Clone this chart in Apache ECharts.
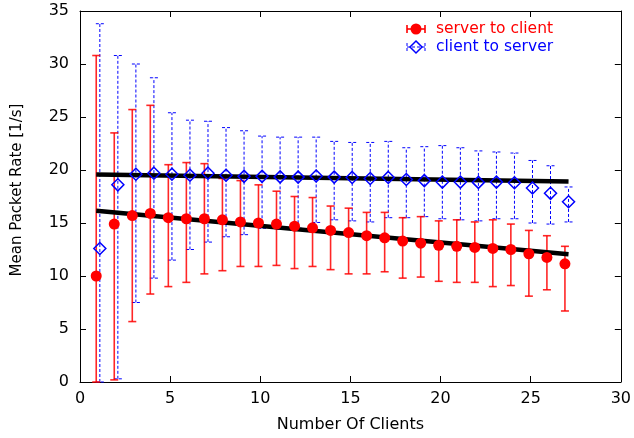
<!DOCTYPE html>
<html>
<head>
<meta charset="utf-8">
<script src="https://cdn.jsdelivr.net/npm/echarts@6/dist/echarts.min.js"></script>
<style>
  html, body { margin: 0; padding: 0; background: #fff; }
  #chart { width: 634px; height: 438px; }
</style>
</head>
<body>
<div id="chart"></div>
<script>
// Number of concurrent clients
const clients = [1,2,3,4,5,6,7,8,9,10,11,12,13,14,15,16,17,18,19,20,21,22,23,24,25,26,27];

// Server -> client packet rate: mean and error-bar range [1/s]
const serverMean = [10.0,14.9,15.7,15.9,15.5,15.4,15.4,15.3,15.1,15.0,14.9,14.7,14.55,14.3,14.1,13.8,13.6,13.3,13.1,12.9,12.8,12.7,12.6,12.5,12.1,11.75,11.15];
const serverLow  = [0.0,0.2,5.7,8.3,9.0,9.4,10.2,10.5,10.9,10.9,11.0,10.7,10.9,10.6,10.2,10.2,10.4,9.8,9.9,9.5,9.4,9.4,9.0,9.1,8.1,8.7,6.7];
const serverHigh = [30.8,23.5,25.7,26.1,20.5,20.7,20.6,19.2,19.0,18.6,18.0,17.5,17.4,16.6,16.4,16.0,16.0,15.5,15.6,15.2,15.3,15.1,15.3,14.9,14.3,13.8,12.8];

// Client -> server packet rate: mean and error-bar range [1/s]
const clientMean = [12.6,18.6,19.6,19.7,19.6,19.5,19.7,19.5,19.4,19.4,19.35,19.33,19.43,19.33,19.3,19.2,19.3,19.1,19.0,18.86,18.86,18.83,18.86,18.8,18.3,17.8,17.0];
const clientLow  = [0.0,0.3,7.5,9.8,11.5,12.5,13.2,13.7,13.9,14.5,14.4,14.5,15.05,15.3,15.2,15.1,15.5,15.5,15.6,15.4,15.3,15.2,15.4,15.4,15.0,14.9,15.1];
const clientHigh = [33.8,30.8,30.0,28.7,25.4,24.7,24.6,24.0,23.7,23.2,23.1,23.1,23.1,22.7,22.6,22.6,22.7,22.1,22.2,22.3,22.1,21.8,21.7,21.6,20.9,20.4,18.4];

// Linear fits (endpoints)
const fitX = [0.9, 27.1];
const serverFit = [16.15, 12.06];
const clientFit = [19.58, 18.92];

// Axis ticks
const xTicks = [0, 5, 10, 15, 20, 25, 30];
const yTicks = [0, 5, 10, 15, 20, 25, 30, 35];

// The two series are nudged sideways so their error bars don't overlap
const SERVER_SHIFT = -0.1;
const CLIENT_SHIFT = 0.1;

const FONT = 'DejaVu Sans';

const serverBars = clients.map((c, i) => [c + SERVER_SHIFT, serverLow[i], serverHigh[i]]);
const clientBars = clients.map((c, i) => [c + CLIENT_SHIFT, clientLow[i], clientHigh[i]]);
const serverPts = clients.map((c, i) => [c + SERVER_SHIFT, serverMean[i]]);
const clientPts = clients.map((c, i) => [c + CLIENT_SHIFT, clientMean[i]]);

function errorBarRenderer(lineStyle) {
  return function (params, api) {
    const x = api.value(0);
    const lo = api.coord([x, api.value(1)]);
    const hi = api.coord([x, api.value(2)]);
    const hw = 4;
    return {
      type: 'group',
      children: [
        { type: 'line', shape: { x1: lo[0], y1: lo[1], x2: hi[0], y2: hi[1] }, style: lineStyle },
        { type: 'line', shape: { x1: hi[0] - hw, y1: hi[1], x2: hi[0] + hw, y2: hi[1] }, style: lineStyle },
        { type: 'line', shape: { x1: lo[0] - hw, y1: lo[1], x2: lo[0] + hw, y2: lo[1] }, style: lineStyle }
      ]
    };
  };
}

const redBarStyle = { stroke: 'rgba(255,0,0,0.85)', lineWidth: 1.6, fill: null };
const blueBarStyle = { stroke: '#0000ff', lineWidth: 1, lineDash: [3, 2], fill: null };

const frameAxis = {
  lineStyle: { color: '#000', width: 1 }
};
const tickStyle = { show: true, inside: true, length: 6, lineStyle: { color: '#000', width: 1 } };

const chart = echarts.init(document.getElementById('chart'), null, { renderer: 'canvas' });

chart.setOption({
  animation: false,
  backgroundColor: '#fff',
  grid: { left: 80, right: 13, top: 11, bottom: 56, containLabel: false },
  xAxis: [
    {
      type: 'value', min: xTicks[0], max: xTicks[xTicks.length - 1], interval: 5,
      position: 'bottom',
      axisLine: { show: true, onZero: false, lineStyle: frameAxis.lineStyle },
      axisTick: tickStyle,
      splitLine: { show: false },
      axisLabel: { color: '#000', fontFamily: FONT, fontSize: 16, margin: 9 },
      name: 'Number Of Clients', nameLocation: 'middle', nameGap: 35,
      nameTextStyle: { color: '#000', fontFamily: FONT, fontSize: 16 }
    },
    {
      type: 'value', min: xTicks[0], max: xTicks[xTicks.length - 1], interval: 5,
      position: 'top',
      axisLine: { show: true, onZero: false, lineStyle: frameAxis.lineStyle },
      axisTick: tickStyle,
      splitLine: { show: false },
      axisLabel: { show: false }
    }
  ],
  yAxis: [
    {
      type: 'value', min: yTicks[0], max: yTicks[yTicks.length - 1], interval: 5,
      position: 'left',
      axisLine: { show: true, onZero: false, lineStyle: frameAxis.lineStyle },
      axisTick: tickStyle,
      splitLine: { show: false },
      axisLabel: { color: '#000', fontFamily: FONT, fontSize: 16, margin: 11 }
    },
    {
      type: 'value', min: yTicks[0], max: yTicks[yTicks.length - 1], interval: 5,
      position: 'right',
      axisLine: { show: true, onZero: false, lineStyle: frameAxis.lineStyle },
      axisTick: tickStyle,
      splitLine: { show: false },
      axisLabel: { show: false }
    }
  ],
  graphic: [
    {
      type: 'text', x: 17, y: 190, rotation: Math.PI / 2,
      style: { text: 'Mean Packet Rate [1/s]', font: '15px "' + FONT + '"', fill: '#000',
               textAlign: 'center', textVerticalAlign: 'middle' }
    },
    // legend: server to client
    { type: 'line', shape: { x1: 407, y1: 29, x2: 425, y2: 29 }, style: { stroke: '#ff0000', lineWidth: 1.6 } },
    { type: 'line', shape: { x1: 407, y1: 25, x2: 407, y2: 33 }, style: { stroke: '#ff0000', lineWidth: 1.6 } },
    { type: 'line', shape: { x1: 425, y1: 25, x2: 425, y2: 33 }, style: { stroke: '#ff0000', lineWidth: 1.6 } },
    { type: 'circle', shape: { cx: 416, cy: 29, r: 5.5 }, style: { fill: '#ff0000' } },
    { type: 'text', x: 436, y: 29,
      style: { text: 'server to client', font: '15.5px "' + FONT + '"', fill: '#ff0000', textVerticalAlign: 'middle' } },
    // legend: client to server
    { type: 'line', shape: { x1: 407, y1: 47, x2: 425, y2: 47 }, style: { stroke: '#0000ff', lineWidth: 1, lineDash: [3, 2] } },
    { type: 'line', shape: { x1: 407, y1: 43, x2: 407, y2: 51 }, style: { stroke: '#0000ff', lineWidth: 1, lineDash: [3, 2] } },
    { type: 'line', shape: { x1: 425, y1: 43, x2: 425, y2: 51 }, style: { stroke: '#0000ff', lineWidth: 1, lineDash: [3, 2] } },
    { type: 'polygon', shape: { points: [[416, 41], [422, 47], [416, 53], [410, 47]] },
      style: { fill: 'none', stroke: '#0000ff', lineWidth: 1.5 } },
    { type: 'text', x: 436, y: 47,
      style: { text: 'client to server', font: '15.5px "' + FONT + '"', fill: '#0000ff', textVerticalAlign: 'middle' } }
  ],
  series: [
    {
      type: 'custom', name: 'client to server bars', data: clientBars,
      renderItem: errorBarRenderer(blueBarStyle), encode: { x: 0, y: [1, 2] }, z: 1, silent: true
    },
    {
      type: 'custom', name: 'server to client bars', data: serverBars,
      renderItem: errorBarRenderer(redBarStyle), encode: { x: 0, y: [1, 2] }, z: 2, silent: true
    },
    {
      type: 'line', name: 'client fit', data: fitX.map((x, i) => [x, clientFit[i]]),
      symbol: 'none', lineStyle: { color: '#000', width: 4.5 }, z: 3, silent: true
    },
    {
      type: 'line', name: 'server fit', data: fitX.map((x, i) => [x, serverFit[i]]),
      symbol: 'none', lineStyle: { color: '#000', width: 4.5 }, z: 3, silent: true
    },
    {
      type: 'scatter', name: 'client to server', data: clientPts,
      symbol: 'diamond', symbolSize: 12,
      itemStyle: { color: 'rgba(0,0,0,0)', borderColor: '#0000ff', borderWidth: 1.5, opacity: 1 }, z: 4
    },
    {
      type: 'scatter', name: 'server to client', data: serverPts,
      symbol: 'circle', symbolSize: 11,
      itemStyle: { color: '#ff0000', opacity: 1 }, z: 5
    }
  ]
});
</script>
</body>
</html>
